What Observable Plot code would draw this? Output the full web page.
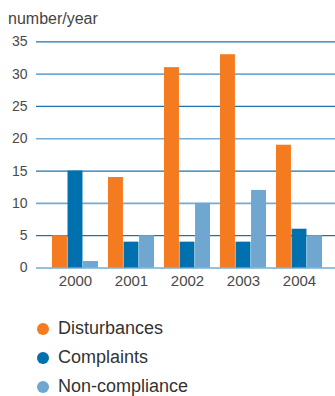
<!DOCTYPE html>
<html>
<head>
<meta charset="utf-8">
<script src="https://cdn.jsdelivr.net/npm/d3@7"></script>
<script src="https://cdn.jsdelivr.net/npm/@observablehq/plot@0.6"></script>
<style>
  body { margin: 0; background: #fff; font-family: "Liberation Sans", Arial, sans-serif; }
  #wrap { width: 335px; height: 396px; overflow: hidden; }
  #title { height: 30px; box-sizing: border-box; padding: 11px 0 0 8px; font-size: 16px; line-height: 16px; color: #444; }
  #legend { padding: 14px 0 0 37px; }
  .item { display: flex; align-items: center; height: 29px; font-size: 18px; color: #333; }
  .dot { width: 12px; height: 12px; border-radius: 50%; margin-right: 9px; flex: none; }
</style>
</head>
<body>
<div id="wrap">
  <div id="title">number/year</div>
  <div id="chart"></div>
  <div id="legend"></div>
</div>
<script>
// Yearly counts per category
const years = ["2000", "2001", "2002", "2003", "2004"];
const disturbances = [5, 14, 31, 33, 19];
const complaints = [15, 4, 4, 4, 6];
const nonCompliance = [1, 5, 10, 12, 5];

const seriesNames = ["Disturbances", "Complaints", "Non-compliance"];
const seriesColors = ["#f47b20", "#0070ae", "#6fa7d0"];
const yTicks = [0, 5, 10, 15, 20, 25, 30, 35];

const rows = years.map((year, i) => ({
  year,
  Disturbances: disturbances[i],
  Complaints: complaints[i],
  "Non-compliance": nonCompliance[i]
}));

// band geometry: three bars share each year's band
const xRange = [46, 329];
const paddingInner = 0.177;
const step = (xRange[1] - xRange[0]) / years.length;
const bandwidth = step * (1 - paddingInner);
const barW = bandwidth / 3;

const bars = seriesNames.map((name, k) =>
  Plot.barY(rows, {
    x: "year",
    y: name,
    fill: seriesColors[k],
    insetLeft: barW * k,
    insetRight: barW * (2 - k)
  })
);

const chart = Plot.plot({
  width: 335,
  height: 270,
  marginTop: 11.3,
  marginBottom: 32.5,
  marginLeft: 36,
  marginRight: 0,
  style: { fontFamily: "'Liberation Sans', Arial, sans-serif", background: "#fff" },
  x: { domain: years, range: xRange, paddingInner, paddingOuter: paddingInner / 2 },
  y: { domain: [0, 35] },
  marks: [
    Plot.ruleY(yTicks, {
      stroke: d => (d % 10 === 0 ? "#72acd6" : "#1b74af"),
      strokeWidth: d => (d % 10 === 0 ? 1.6 : 1.2)
    }),
    ...bars,
    Plot.axisY(yTicks, { tickSize: 0, tickPadding: 9, fontSize: 14, fill: "#4a4a4a", label: null }),
    Plot.axisX({ tickSize: 0, tickPadding: 7, fontSize: 15, fill: "#4a4a4a", label: null })
  ]
});
document.getElementById("chart").appendChild(chart);

const legend = document.getElementById("legend");
seriesNames.forEach((name, k) => {
  const item = document.createElement("div");
  item.className = "item";
  const dot = document.createElement("span");
  dot.className = "dot";
  dot.style.background = seriesColors[k];
  const label = document.createElement("span");
  label.textContent = name;
  item.append(dot, label);
  legend.appendChild(item);
});
</script>
</body>
</html>
